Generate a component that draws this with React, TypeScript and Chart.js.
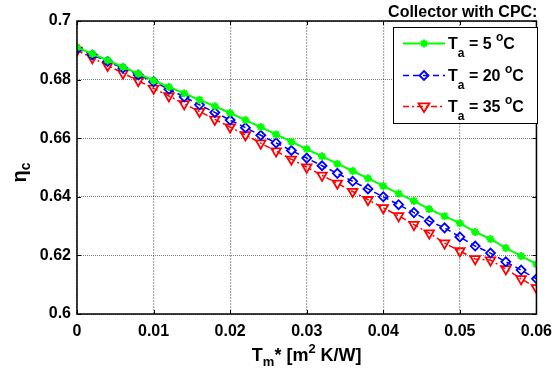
import React, { useEffect, useRef } from "react";
import { Chart, registerables } from "chart.js";

Chart.register(...registerables);

const xValues = [
  0, 0.002, 0.004, 0.006, 0.008, 0.01, 0.012, 0.014, 0.016, 0.018, 0.02,
  0.022, 0.024, 0.026, 0.028, 0.03, 0.032, 0.034, 0.036, 0.038, 0.04,
  0.042, 0.044, 0.046, 0.048, 0.05, 0.052, 0.054, 0.056, 0.058, 0.06,
];

const eta5 = [
  0.691, 0.6888, 0.6866, 0.6843, 0.682, 0.6797, 0.6775, 0.6753, 0.6731, 0.6709, 0.6686,
  0.6662, 0.6638, 0.6613, 0.6588, 0.6563, 0.6538, 0.6513, 0.6488, 0.6463, 0.6437,
  0.6411, 0.6386, 0.6358, 0.6334, 0.631, 0.628, 0.6256, 0.6225, 0.6198, 0.617,
];

const eta20 = [
  0.6905, 0.6884, 0.6862, 0.6839, 0.6816, 0.6793, 0.6767, 0.6741, 0.6714, 0.6688, 0.6662,
  0.6636, 0.661, 0.6584, 0.6558, 0.6532, 0.6506, 0.648, 0.6453, 0.6427, 0.64,
  0.6373, 0.6346, 0.6317, 0.6294, 0.6263, 0.6232, 0.6208, 0.6178, 0.615, 0.612,
];

const eta35 = [
  0.69, 0.6874, 0.6848, 0.6822, 0.6796, 0.677, 0.6744, 0.6717, 0.6691, 0.6664, 0.6638,
  0.6611, 0.6583, 0.6556, 0.6528, 0.6501, 0.6473, 0.6446, 0.6418, 0.639, 0.6362,
  0.6335, 0.6305, 0.6276, 0.6242, 0.6215, 0.6188, 0.6184, 0.6154, 0.612, 0.6089,
];

const xTicks = [0, 0.01, 0.02, 0.03, 0.04, 0.05, 0.06];
const xTickLabels = ["0", "0.01", "0.02", "0.03", "0.04", "0.05", "0.06"];
const yTicks = [0.6, 0.62, 0.64, 0.66, 0.68, 0.7];
const yTickLabels = ["0.6", "0.62", "0.64", "0.66", "0.68", "0.7"];

const seriesLabels = ["5", "20", "35"];
const titleText = "Collector with CPC:";

const FONT = "'Liberation Sans', Arial, sans-serif";
const GREEN = "#00ff00";
const BLUE = "#0000ff";
const RED = "#ff0000";

type Piece = { t: string; size: number; dy: number };

function drawPieces(ctx: CanvasRenderingContext2D, pieces: Piece[], x: number, y: number) {
  let cx = x;
  for (const p of pieces) {
    ctx.font = `bold ${p.size}px ${FONT}`;
    ctx.fillText(p.t, cx, y + p.dy);
    cx += ctx.measureText(p.t).width;
  }
  return cx - x;
}

function piecesWidth(ctx: CanvasRenderingContext2D, pieces: Piece[]) {
  let w = 0;
  for (const p of pieces) {
    ctx.font = `bold ${p.size}px ${FONT}`;
    w += ctx.measureText(p.t).width;
  }
  return w;
}

function drawMarker(
  ctx: CanvasRenderingContext2D,
  style: string,
  r: number,
  x: number,
  y: number,
  rotDeg: number
) {
  ctx.save();
  ctx.translate(x, y);
  ctx.rotate((rotDeg * Math.PI) / 180);
  ctx.beginPath();
  if (style === "rectRot") {
    ctx.moveTo(0, -r);
    ctx.lineTo(r, 0);
    ctx.lineTo(0, r);
    ctx.lineTo(-r, 0);
    ctx.closePath();
    ctx.stroke();
  } else if (style === "triangle") {
    ctx.moveTo(0, -r);
    ctx.lineTo(r * 0.866 * 1.15, r * 0.5 * 1.15);
    ctx.lineTo(-r * 0.866 * 1.15, r * 0.5 * 1.15);
    ctx.closePath();
    ctx.stroke();
  } else {
    for (let k = 0; k < 4; k++) {
      const a = (k * Math.PI) / 4;
      ctx.moveTo(Math.cos(a) * r, Math.sin(a) * r);
      ctx.lineTo(-Math.cos(a) * r, -Math.sin(a) * r);
    }
    ctx.stroke();
  }
  ctx.restore();
}

const decorPlugin = {
  id: "decor",
  afterDraw(chart: any) {
    const ctx: CanvasRenderingContext2D = chart.ctx;
    const area = chart.chartArea;
    const xs = chart.scales.x;
    const ys = chart.scales.y;
    ctx.save();
    ctx.strokeStyle = "#000";
    ctx.lineWidth = 1.5;
    ctx.setLineDash([]);
    ctx.strokeRect(area.left, area.top, area.right - area.left, area.bottom - area.top);
    ctx.lineWidth = 1;
    const tl = 4;
    for (const v of xTicks) {
      const px = Math.round(xs.getPixelForValue(v)) + 0.5;
      ctx.beginPath();
      ctx.moveTo(px, area.bottom);
      ctx.lineTo(px, area.bottom - tl);
      ctx.moveTo(px, area.top);
      ctx.lineTo(px, area.top + tl);
      ctx.stroke();
    }
    for (const v of yTicks) {
      const py = Math.round(ys.getPixelForValue(v)) + 0.5;
      ctx.beginPath();
      ctx.moveTo(area.left, py);
      ctx.lineTo(area.left + tl, py);
      ctx.moveTo(area.right, py);
      ctx.lineTo(area.right - tl, py);
      ctx.stroke();
    }

    ctx.fillStyle = "#000";
    ctx.textBaseline = "alphabetic";
    ctx.textAlign = "left";

    ctx.font = `bold 16px ${FONT}`;
    const tw = ctx.measureText(titleText).width;
    ctx.fillText(titleText, area.right + 1 - tw, 17);

    const xPieces: Piece[] = [
      { t: "T", size: 18, dy: 0 },
      { t: "m", size: 13, dy: 5 },
      { t: "* [m", size: 18, dy: 0 },
      { t: "2", size: 13, dy: -8 },
      { t: " K/W]", size: 18, dy: 0 },
    ];
    const xw = piecesWidth(ctx, xPieces);
    const xc = (area.left + area.right) / 2;
    drawPieces(ctx, xPieces, xc - xw / 2, 361);

    const yPieces: Piece[] = [
      { t: "η", size: 20, dy: 0 },
      { t: "c", size: 14, dy: 4 },
    ];
    const yw = piecesWidth(ctx, yPieces);
    ctx.save();
    ctx.translate(26, (area.top + area.bottom) / 2 + 5);
    ctx.rotate(-Math.PI / 2);
    drawPieces(ctx, yPieces, -yw / 2, 0);
    ctx.restore();

    const lx = 393, ly = 27, lw = 144, lh = 96;
    ctx.fillStyle = "#fff";
    ctx.fillRect(lx, ly, lw, lh);
    ctx.strokeStyle = "#000";
    ctx.lineWidth = 1;
    ctx.strokeRect(lx + 0.5, ly + 0.5, lw, lh);

    const rowY = [43, 75, 106];
    chart.data.datasets.forEach((ds: any, i: number) => {
      const y = rowY[i];
      ctx.strokeStyle = ds.borderColor;
      ctx.lineWidth = ds.borderWidth;
      ctx.setLineDash(ds.borderDash || []);
      ctx.beginPath();
      ctx.moveTo(403, y + 0.5);
      ctx.lineTo(445, y + 0.5);
      ctx.stroke();
      ctx.setLineDash([]);
      ctx.lineWidth = ds.pointBorderWidth;
      ctx.strokeStyle = ds.borderColor;
      drawMarker(ctx, ds.pointStyle, ds.pointRadius, 424, y + 0.5, ds.pointRotation || 0);
      ctx.fillStyle = "#000";
      drawPieces(
        ctx,
        [
          { t: "T", size: 16, dy: 0 },
          { t: "a", size: 12, dy: 8 },
          { t: " = " + seriesLabels[i] + " ", size: 16, dy: 0 },
          { t: "o", size: 12, dy: -8 },
          { t: "C", size: 16, dy: 0 },
        ],
        448,
        y + 6
      );
    });
    ctx.restore();
  },
};

export default function App() {
  const canvasRef = useRef<HTMLCanvasElement | null>(null);

  useEffect(() => {
    const canvas = canvasRef.current;
    if (!canvas) return;
    const mk = (arr: number[]) => xValues.map((x, i) => ({ x, y: arr[i] }));
    const chart = new Chart(canvas, {
      type: "line",
      data: {
        datasets: [
          {
            label: "Ta = 5 oC",
            data: mk(eta5),
            borderColor: GREEN,
            backgroundColor: GREEN,
            borderWidth: 2,
            pointStyle: "star",
            pointRadius: 4,
            pointBorderWidth: 2,
            pointBackgroundColor: GREEN,
            pointBorderColor: GREEN,
          },
          {
            label: "Ta = 20 oC",
            data: mk(eta20),
            borderColor: BLUE,
            backgroundColor: BLUE,
            borderWidth: 1.5,
            borderDash: [6, 4],
            pointStyle: "rectRot",
            pointRadius: 4.5,
            pointBorderWidth: 1.8,
            pointBackgroundColor: "rgba(255,255,255,0)",
            pointBorderColor: BLUE,
          },
          {
            label: "Ta = 35 oC",
            data: mk(eta35),
            borderColor: RED,
            backgroundColor: RED,
            borderWidth: 1.5,
            borderDash: [6, 3, 2, 3],
            pointStyle: "triangle",
            pointRadius: 5.5,
            pointRotation: 180,
            pointBorderWidth: 1.8,
            pointBackgroundColor: "rgba(255,255,255,0)",
            pointBorderColor: RED,
          },
        ] as any,
      },
      options: {
        animation: false,
        responsive: false,
        maintainAspectRatio: false,
        layout: { padding: { top: 21, right: 18, left: 0, bottom: 0 } },
        plugins: {
          legend: { display: false },
          tooltip: { enabled: false },
          title: { display: false },
        },
        scales: {
          x: {
            type: "linear",
            min: 0,
            max: 0.06,
            afterBuildTicks: (s: any) => {
              s.ticks = xTicks.map((v) => ({ value: v }));
            },
            afterFit: (s: any) => {
              s.height = 54;
            },
            ticks: {
              autoSkip: false,
              maxRotation: 0,
              padding: 8,
              color: "#000",
              font: { family: FONT, size: 16, weight: "bold" },
              callback: (_v: any, i: number) => xTickLabels[i],
            },
            grid: { color: "rgba(0,0,0,0.35)", lineWidth: 1.2, drawTicks: false },
            border: { display: false, dash: [2, 1] },
          },
          y: {
            type: "linear",
            min: 0.6,
            max: 0.7,
            afterBuildTicks: (s: any) => {
              s.ticks = yTicks.map((v) => ({ value: v }));
            },
            afterFit: (s: any) => {
              s.width = 77;
            },
            ticks: {
              autoSkip: false,
              padding: 6,
              color: "#000",
              font: { family: FONT, size: 16, weight: "bold" },
              callback: (_v: any, i: number) => yTickLabels[i],
            },
            grid: { color: "rgba(0,0,0,0.5)", lineWidth: 1, drawTicks: false },
            border: { display: false, dash: [1, 1] },
          },
        },
      } as any,
      plugins: [decorPlugin],
    });
    return () => chart.destroy();
  }, []);

  return (
    <div style={{ position: "fixed", left: 0, top: 0, width: 560, height: 368, background: "#fff" }}>
      <canvas ref={canvasRef} width={560} height={368} style={{ width: 560, height: 368, display: "block" }} />
    </div>
  );
}
